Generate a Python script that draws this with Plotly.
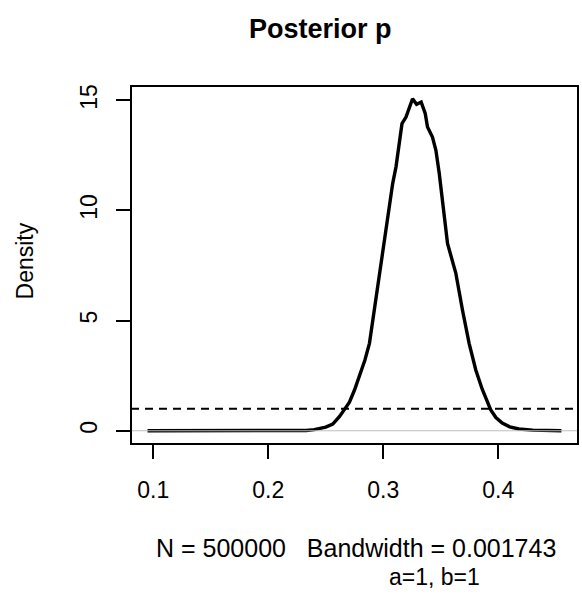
import plotly.graph_objects as go

# Posterior density of p
p_vals = [0.095, 0.150, 0.200, 0.220, 0.233, 0.240, 0.2446, 0.250, 0.2561, 0.259,
          0.262, 0.266, 0.2706, 0.275, 0.2793, 0.284, 0.288, 0.2908, 0.2966, 0.3000,
          0.3030, 0.3055, 0.3082, 0.3111, 0.3140, 0.3163, 0.3198, 0.3226, 0.3255, 0.3290,
          0.3330, 0.3365, 0.3385, 0.3428, 0.3458, 0.3487, 0.3515, 0.3559, 0.3631, 0.3660,
          0.3689, 0.3747, 0.3805, 0.3860, 0.3935, 0.3980, 0.4035, 0.4100, 0.4180, 0.4300,
          0.4400, 0.4550]
density = [0.0, 0.0, 0.0, 0.003, 0.015, 0.05, 0.10, 0.17, 0.30, 0.45,
           0.65, 0.95, 1.30, 1.85, 2.46, 3.20, 3.97, 5.00, 7.14, 8.30,
           9.30, 10.35, 11.22, 11.98, 13.04, 13.94, 14.24, 14.62, 15.07, 14.82,
           14.92, 14.40, 13.79, 13.33, 12.73, 11.69, 10.47, 8.50, 7.16, 6.25,
           5.48, 3.97, 2.76, 1.90, 0.95, 0.60, 0.35, 0.18, 0.08, 0.03,
           0.01, 0.0]
prior_density = 1.0
x_ticks = [0.1, 0.2, 0.3, 0.4]
x_tick_labels = ["0.1", "0.2", "0.3", "0.4"]
y_ticks = [0, 5, 10, 15]
y_tick_labels = ["0", "5", "10", "15"]
x_range = [0.0806, 0.4694]
y_range = [-0.60, 15.65]

title_text = "<b>Posterior p</b>"
xlab_text = "N = 500000   Bandwidth = 0.001743"
sub_text = "a=1, b=1"
ylab_text = "Density"

FONT = "Liberation Sans, Arial, Helvetica, sans-serif"

fig = go.Figure()
fig.add_trace(go.Scatter(x=p_vals, y=density, mode="lines",
                         line=dict(color="black", width=3.4), hoverinfo="skip"))
# prior line (dashed)
fig.add_trace(go.Scatter(x=x_range, y=[prior_density, prior_density], mode="lines",
                         line=dict(color="black", width=2, dash="8px,6px"), hoverinfo="skip"))
# zero line (gray, on top)
fig.add_trace(go.Scatter(x=x_range, y=[0, 0], mode="lines",
                         line=dict(color="#BEBEBE", width=1), hoverinfo="skip"))

fig.update_layout(
    width=582, height=597,
    margin=dict(l=131, r=4, t=86, b=153, pad=0),
    paper_bgcolor="white", plot_bgcolor="white",
    showlegend=False,
    font=dict(family=FONT, size=23, color="black"),
    xaxis=dict(range=x_range, showgrid=False, zeroline=False, showline=False,
               tickmode="array", tickvals=x_ticks, ticktext=x_tick_labels,
               ticks="outside", ticklen=14, tickwidth=1.5, tickcolor="black",
               ticklabelstandoff=11,
               tickfont=dict(family=FONT, size=23, color="black")),
    yaxis=dict(range=y_range, showgrid=False, zeroline=False, showline=False,
               tickmode="array", tickvals=y_ticks, ticktext=y_tick_labels,
               ticks="outside", ticklen=14, tickwidth=1.5, tickcolor="black",
               tickangle=-90, ticklabelstandoff=10,
               tickfont=dict(family=FONT, size=23, color="black")),
    shapes=[dict(type="rect", xref="paper", yref="paper", x0=0, x1=1, y0=0, y1=1,
                 line=dict(color="black", width=2), fillcolor="rgba(0,0,0,0)")],
    annotations=[
        dict(text=title_text, xref="paper", yref="paper", x=0.423, y=1.159,
             xanchor="center", yanchor="middle", showarrow=False,
             font=dict(family=FONT, size=27, color="black")),
        dict(text=ylab_text, xref="paper", yref="paper", x=-0.237, y=0.51,
             xanchor="center", yanchor="middle", textangle=-90, showarrow=False,
             font=dict(family=FONT, size=23, color="black")),
        dict(text=xlab_text, xref="paper", yref="paper", x=0.503, y=-0.290,
             xanchor="center", yanchor="middle", showarrow=False,
             font=dict(family=FONT, size=25, color="black")),
        dict(text=sub_text, xref="paper", yref="paper", x=0.573, y=-0.372,
             xanchor="left", yanchor="middle", showarrow=False,
             font=dict(family=FONT, size=23, color="black")),
    ],
)

fig.write_html("out.html")
